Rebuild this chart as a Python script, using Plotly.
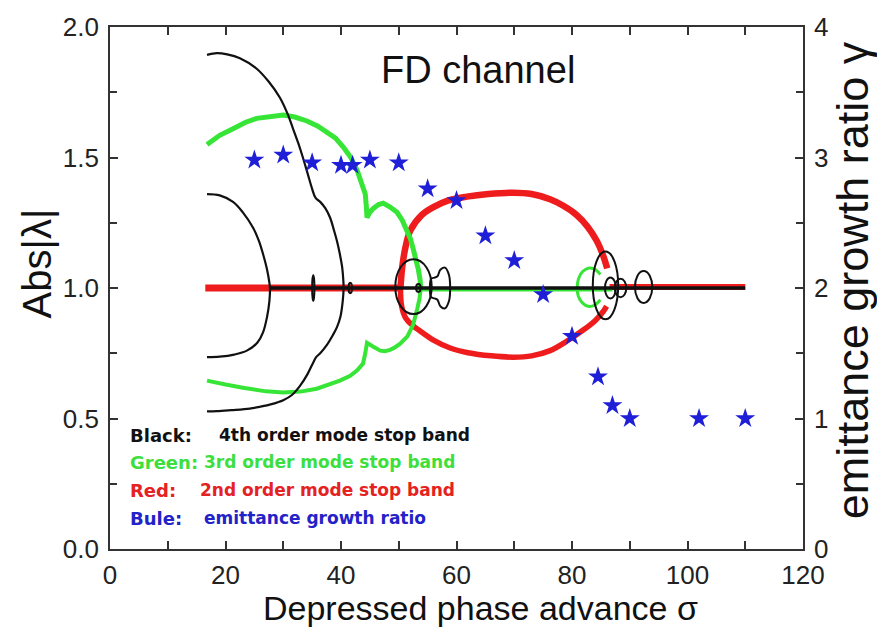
import plotly.graph_objects as go

# ---------------- data (sigma, |lambda|) ----------------
# Red: 2nd order mode stop band
red_line1_x = [16.5, 50.3]
red_line1_y = [1.0, 1.0]
red_line2_x = [86.5, 110.0]
red_line2_y = [1.004, 1.004]
red_up_x = [50.3, 50.6, 51.2, 52.0, 54.0, 56.0, 58.5, 61.8, 65.5, 69.8, 73.0, 76.2, 78.5, 80.8, 82.7, 84.3, 85.3, 86.1]
red_up_y = [1.0, 1.08, 1.16, 1.22, 1.28, 1.31, 1.335, 1.35, 1.36, 1.365, 1.36, 1.34, 1.315, 1.28, 1.235, 1.18, 1.13, 1.075]
red_lo_x = [50.3, 50.5, 51.2, 52.5, 53.7, 56.0, 58.9, 62.0, 66.0, 69.8, 73.0, 76.2, 79.0, 82.0, 84.0, 85.4, 86.0]
red_lo_y = [1.0, 0.93, 0.885, 0.855, 0.835, 0.80, 0.77, 0.752, 0.74, 0.735, 0.74, 0.76, 0.795, 0.84, 0.875, 0.91, 0.93]

# Green: 3rd order mode stop band
green_up_x = [16.8, 19.0, 21.3, 23.5, 25.4, 28.0, 30.0, 32.0, 34.1, 36.0, 37.5, 39.0, 40.4, 41.7, 42.8, 43.6,
              44.2, 44.4, 44.5, 45.0, 45.6, 46.5, 47.3, 48.5, 49.7, 50.6, 51.4, 52.0, 52.5, 53.0, 53.4, 53.7, 53.8]
green_up_y = [1.55, 1.585, 1.61, 1.635, 1.65, 1.66, 1.663, 1.655, 1.64, 1.62, 1.60, 1.575, 1.54, 1.50, 1.45, 1.40,
              1.36, 1.31, 1.27, 1.29, 1.305, 1.32, 1.325, 1.31, 1.29, 1.26, 1.225, 1.19, 1.15, 1.11, 1.07, 1.03, 1.0]
green_lo_x = [53.8, 53.6, 53.2, 52.5, 51.5, 50.2, 49.3, 48.5, 47.6, 46.8, 45.6, 45.0, 44.5, 44.2, 43.8, 42.8,
              41.6, 39.8, 37.5, 35.8, 33.0, 30.0, 27.0, 25.0, 23.0, 20.0, 16.8]
green_lo_y = [1.0, 0.96, 0.92, 0.86, 0.815, 0.786, 0.772, 0.763, 0.758, 0.76, 0.775, 0.785, 0.79, 0.75, 0.71, 0.685,
              0.664, 0.645, 0.625, 0.614, 0.603, 0.60, 0.604, 0.61, 0.618, 0.63, 0.645]
green_line_x = [53.8, 87.0]
green_line_y = [0.993, 0.993]
green_arc_x = [84.9, 83.9, 82.8, 81.8, 81.1, 80.9, 81.1, 81.8, 82.8, 83.9, 84.9]
green_arc_y = [1.052, 1.072, 1.076, 1.062, 1.033, 1.0, 0.968, 0.943, 0.93, 0.934, 0.955]

# Black: 4th order mode stop band
black_out_x = [16.8, 18.5, 20.3, 22.5, 25.4, 27.5, 29.4, 30.7, 31.7, 32.6, 33.4, 34.2, 35.0, 35.6, 36.4, 37.3,
               38.1, 38.8, 39.3, 39.8, 40.2, 40.4, 40.45, 40.3, 39.9, 39.3, 38.6, 37.5, 36.4, 35.7, 35.2, 34.2,
               32.9, 31.5, 30.0, 28.0, 26.0, 24.2, 21.0, 18.5, 16.8]
black_out_y = [1.893, 1.90, 1.895, 1.88, 1.84, 1.79, 1.73, 1.67, 1.61, 1.555, 1.50, 1.44, 1.38, 1.345, 1.33, 1.305,
               1.27, 1.22, 1.18, 1.13, 1.08, 1.03, 1.0, 0.95, 0.89, 0.85, 0.82, 0.78, 0.75, 0.735, 0.715, 0.67,
               0.625, 0.59, 0.57, 0.555, 0.545, 0.538, 0.532, 0.528, 0.527]
black_in_x = [16.8, 19.0, 21.3, 23.0, 24.8, 25.8, 26.5, 27.2, 27.6, 27.7, 27.6, 27.2, 26.5, 25.5, 23.7, 21.5, 19.0, 16.8]
black_in_y = [1.36, 1.355, 1.33, 1.29, 1.23, 1.18, 1.13, 1.07, 1.02, 1.0, 0.95, 0.89, 0.83, 0.79, 0.76, 0.745, 0.737, 0.735]
black_line_x = [27.7, 110.0]
black_line_y = [1.0, 1.0]
black_peanut_x = [58.9, 58.7, 58.0, 57.2, 56.7, 56.2, 55.6, 55.4, 55.6, 56.2, 56.7, 57.2, 58.0, 58.7, 58.9]
black_peanut_y = [1.0, 1.05, 1.078, 1.07, 1.045, 1.04, 1.035, 1.0, 0.965, 0.96, 0.955, 0.93, 0.922, 0.95, 1.0]
# closed black loops: (sigma0, sigma1, lambda0, lambda1)
black_loops = [(35.0, 35.4, 0.95, 1.05), (41.3, 41.9, 0.98, 1.02), (49.4, 55.7, 0.90, 1.11),
               (53.0, 53.8, 0.985, 1.015), (83.6, 88.0, 0.88, 1.14), (85.7, 87.6, 0.96, 1.04),
               (87.4, 89.4, 0.965, 1.035), (90.9, 93.9, 0.943, 1.065)]

# Blue: emittance growth ratio (right axis)
star_x = [25, 30, 35, 40, 42, 45, 50, 55, 60, 65, 70, 75, 80, 84.5, 87, 90, 102, 110]
star_y = [2.98, 3.02, 2.96, 2.94, 2.94, 2.98, 2.96, 2.76, 2.67, 2.40, 2.21, 1.95, 1.63, 1.32, 1.10, 1.0, 1.0, 1.0]

legend_labels = ["Black:", "Green:", "Red:", "Bule:"]
legend_texts = ["4th order mode stop band", "3rd order mode stop band",
                "2nd order mode stop band", "emittance growth ratio"]
legend_colors = ["#111111", "#3ddf3d", "#e52222", "#2222c8"]

RED = "#ee1c1c"
GREEN = "#36e536"
BLACK = "#111111"
BLUE = "#1f1fd8"
FONT = "Liberation Sans, Arial, sans-serif"

fig = go.Figure()

def add(x, y, color, width, shape="linear", yaxis="y"):
    fig.add_trace(go.Scatter(x=x, y=y, mode="lines", yaxis=yaxis,
                             line=dict(color=color, width=width, shape=shape),
                             hoverinfo="skip", showlegend=False))

# red
add(red_line1_x, red_line1_y, RED, 7)
add(red_line2_x, red_line2_y, RED, 6)
add(red_up_x, red_up_y, RED, 6.5, "spline")
add(red_lo_x, red_lo_y, RED, 5.5, "spline")
# green
add(green_line_x, green_line_y, GREEN, 3.5)
add(green_up_x, green_up_y, GREEN, 5)
add(green_lo_x, green_lo_y, GREEN, 4)
add(green_arc_x, green_arc_y, GREEN, 3, "spline")
# black
add(black_line_x, black_line_y, BLACK, 3.5)
add(black_out_x, black_out_y, BLACK, 2.2, "spline")
add(black_in_x, black_in_y, BLACK, 2.2, "spline")
add(black_peanut_x, black_peanut_y, BLACK, 2, "spline")

shapes = []
for (x0, x1, y0, y1) in black_loops:
    shapes.append(dict(type="circle", xref="x", yref="y", x0=x0, x1=x1, y0=y0, y1=y1,
                       line=dict(color=BLACK, width=2)))

# stars on right axis
fig.add_trace(go.Scatter(x=star_x, y=star_y, mode="markers", yaxis="y2",
                         marker=dict(symbol="star", size=15, color=BLUE, line=dict(width=0)),
                         hoverinfo="skip", showlegend=False))

annotations = [
    dict(text="FD channel", x=63.7, y=1.835, xref="x", yref="y", showarrow=False,
         font=dict(family=FONT, size=38, color="#111111"), xanchor="center", yanchor="middle"),
    dict(text="Depressed phase advance σ", x=0.534, y=-0.113, xref="paper", yref="paper",
         showarrow=False, font=dict(family=FONT, size=34, color="#111111"),
         xanchor="center", yanchor="middle"),
    dict(text="Abs|λ|", x=-0.104, y=0.547, xref="paper", yref="paper", textangle=-90,
         showarrow=False, font=dict(family=FONT, size=40, color="#111111"),
         xanchor="center", yanchor="middle"),
    dict(text="emittance growth ratio γ", x=1.071, y=0.515, xref="paper", yref="paper",
         textangle=-90, showarrow=False, font=dict(family=FONT, size=45, color="#111111"),
         xanchor="center", yanchor="middle"),
]
leg_y = [0.435, 0.332, 0.225, 0.118]
leg_text_x = [18.6, 16.0, 15.2, 16.0]
for lab, txt, col, yy, tx in zip(legend_labels, legend_texts, legend_colors, leg_y, leg_text_x):
    annotations.append(dict(text="<b>" + lab + "</b>", x=3.1, y=yy, xref="x", yref="y",
                            showarrow=False, xanchor="left", yanchor="middle",
                            font=dict(family="DejaVu Sans", size=18, color=col)))
    annotations.append(dict(text="<b>" + txt + "</b>", x=tx, y=yy, xref="x", yref="y",
                            showarrow=False, xanchor="left", yanchor="middle",
                            font=dict(family="DejaVu Sans", size=17, color=col)))

axis_common = dict(showgrid=False, zeroline=False, showline=True, linecolor="#333333", linewidth=1.8,
                   ticks="inside", ticklen=8, tickwidth=1.5, tickcolor="#333333",
                   tickfont=dict(family=FONT, size=26, color="#222222"))

fig.update_layout(
    width=877, height=629,
    margin=dict(l=110, r=74, t=25, b=80),
    paper_bgcolor="white", plot_bgcolor="white",
    showlegend=False,
    xaxis=dict(range=[0, 120], dtick=20, tick0=0, mirror="ticks",
               minor=dict(dtick=10, ticks="inside", ticklen=8, tickcolor="#333333", tickwidth=1.5),
               ticklabelstandoff=2, **axis_common),
    yaxis=dict(range=[0, 2], dtick=0.5, tick0=0, tickformat=".1f",
               minor=dict(dtick=0.25, ticks="inside", ticklen=7, tickcolor="#333333", tickwidth=1.5),
               ticklabelstandoff=4, **axis_common),
    yaxis2=dict(range=[0, 4], dtick=1, tick0=0, overlaying="y", side="right",
                minor=dict(dtick=0.5, ticks="inside", ticklen=7, tickcolor="#333333", tickwidth=1.5),
                ticklabelstandoff=4, **axis_common),
    shapes=shapes,
    annotations=annotations,
)

fig.write_html("out.html")
